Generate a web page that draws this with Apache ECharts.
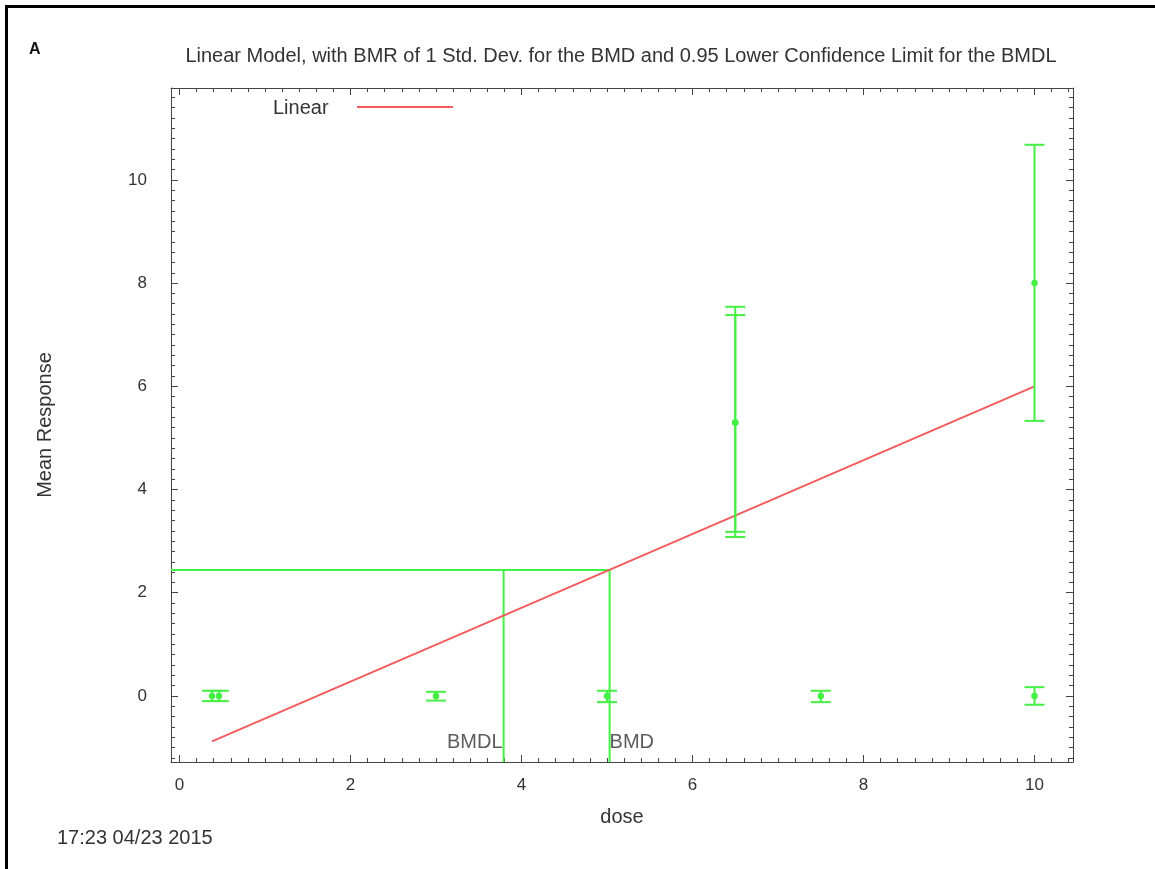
<!DOCTYPE html>
<html>
<head>
<meta charset="utf-8">
<title>Linear Model BMD</title>
<script src="https://cdn.jsdelivr.net/npm/echarts@6/dist/echarts.min.js"></script>
<style>
  html, body { margin: 0; padding: 0; background: #fff; }
  #chart { width: 1155px; height: 869px; }
</style>
</head>
<body>
<div id="chart"></div>
<script>
// Observed dose groups: dose, group mean and confidence interval bounds
const doses = [0.38, 0.46, 3, 5, 6.5, 6.5, 7.5, 10, 10];
const means = [0, 0, 0, 0, 5.3, 5.3, 0, 0, 8.0];
const lowerCI = [-0.1, -0.1, -0.09, -0.12, 3.08, 3.18, -0.12, -0.17, 5.33];
const upperCI = [0.1, 0.1, 0.08, 0.1, 7.54, 7.38, 0.1, 0.17, 10.68];

// Fitted linear model, drawn between its two end doses
const linearDose = [0.38, 10];
const linearMean = [-0.88, 6.0];

// Benchmark response level and the BMD / BMDL doses
const bmr = 2.44;
const bmd = 5.03;
const bmdl = 3.79;

// Axis ranges and tick labels
const xMin = -0.1, xMax = 10.45;
const yMin = -1.28, yMax = 11.78;
const xTicks = [0, 2, 4, 6, 8, 10];
const yTicks = [0, 2, 4, 6, 8, 10];

function minorSteps(from, to, step) {
  const out = [];
  for (let v = from; v <= to + 1e-9; v += step) out.push(Math.round(v * 100) / 100);
  return out;
}
const xMinor = minorSteps(0, 10.4, 0.2);
const yMinor = minorSteps(-1.2, 11.6, 0.2);

const FONT = 'Liberation Sans, Arial, sans-serif';
const TEXT = '#333';
const GREEN = '#44f044';
const RED = '#f25c5c';
const FRAME = '#444';
const LABEL_SIZE = 20;

function xAxisDef(position, ticks, len, withLine, withLabels) {
  return {
    type: 'value', min: xMin, max: xMax, position: position,
    axisLine: { show: withLine, onZero: false, lineStyle: { color: FRAME, width: 1 } },
    axisTick: { show: true, inside: true, length: len, customValues: ticks, lineStyle: { color: FRAME } },
    axisLabel: withLabels
      ? { show: true, customValues: ticks, margin: 15, color: TEXT, fontSize: 17, fontFamily: FONT }
      : { show: false },
    splitLine: { show: false }
  };
}
function yAxisDef(position, ticks, len, withLine, withLabels) {
  return {
    type: 'value', min: yMin, max: yMax, position: position,
    axisLine: { show: withLine, onZero: false, lineStyle: { color: FRAME, width: 1 } },
    axisTick: { show: true, inside: true, length: len, customValues: ticks, lineStyle: { color: FRAME } },
    axisLabel: withLabels
      ? { show: true, customValues: ticks, margin: 24, color: TEXT, fontSize: 17, fontFamily: FONT }
      : { show: false },
    splitLine: { show: false }
  };
}

const xAxes = [
  xAxisDef('bottom', xTicks, 7, true, true),
  xAxisDef('bottom', xMinor, 4, false, false),
  xAxisDef('top', xTicks, 7, true, false),
  xAxisDef('top', xMinor, 4, false, false)
];
xAxes[0].name = 'dose';
xAxes[0].nameLocation = 'middle';
xAxes[0].nameGap = 45;
xAxes[0].nameTextStyle = { color: TEXT, fontSize: LABEL_SIZE, fontFamily: FONT };

const yAxes = [
  yAxisDef('left', yTicks, 7, true, true),
  yAxisDef('left', yMinor, 4, false, false),
  yAxisDef('right', yTicks, 7, true, false),
  yAxisDef('right', yMinor, 4, false, false)
];
yAxes[0].name = 'Mean Response';
yAxes[0].nameLocation = 'middle';
yAxes[0].nameGap = 116;
yAxes[0].nameTextStyle = { color: TEXT, fontSize: LABEL_SIZE, fontFamily: FONT };

const errorData = doses.map((d, i) => [d, lowerCI[i], upperCI[i], means[i]]);

const chart = echarts.init(document.getElementById('chart'), null, { renderer: 'canvas' });
chart.setOption({
  backgroundColor: '#fff',
  animation: false,
  grid: { left: 171, right: 82, top: 88, bottom: 107, containLabel: false },
  xAxis: xAxes,
  yAxis: yAxes,
  graphic: [
    { type: 'rect', left: 4, top: 4, silent: true,
      shape: { x: 0, y: 0, width: 1400, height: 1200 },
      style: { fill: 'none', stroke: '#000', lineWidth: 3 } },
    { type: 'text', x: 29, y: 50, silent: true,
      style: { text: 'A', fill: '#111', font: 'bold 16px ' + FONT, verticalAlign: 'middle' } },
    { type: 'text', x: 621, y: 56, silent: true,
      style: { text: 'Linear Model, with BMR of 1 Std. Dev. for the BMD and 0.95 Lower Confidence Limit for the BMDL',
               fill: TEXT, font: LABEL_SIZE + 'px ' + FONT, align: 'center', verticalAlign: 'middle' } },
    { type: 'text', x: 273, y: 108, silent: true,
      style: { text: 'Linear', fill: TEXT, font: LABEL_SIZE + 'px ' + FONT, verticalAlign: 'middle' } },
    { type: 'line', silent: true,
      shape: { x1: 357, y1: 107, x2: 453, y2: 107 },
      style: { stroke: RED, lineWidth: 2 } },
    { type: 'text', x: 57, y: 838, silent: true,
      style: { text: '17:23 04/23 2015', fill: TEXT, font: LABEL_SIZE + 'px ' + FONT, verticalAlign: 'middle' } }
  ],
  series: [
    {
      name: 'Linear', type: 'line', symbol: 'none', silent: true,
      data: linearDose.map((d, i) => [d, linearMean[i]]),
      lineStyle: { color: RED, width: 2 }, z: 3
    },
    {
      name: 'BMD', type: 'line', symbol: 'none', silent: true,
      data: [[xMin, bmr], [bmd, bmr], [bmd, yMin]],
      lineStyle: { color: GREEN, width: 2 }, z: 2
    },
    {
      name: 'BMDL', type: 'line', symbol: 'none', silent: true,
      data: [[bmdl, bmr], [bmdl, yMin]],
      lineStyle: { color: GREEN, width: 2 }, z: 2
    },
    {
      name: 'BMD labels', type: 'scatter', symbolSize: 0, silent: true,
      data: [
        { value: [bmdl, -0.9], label: { formatter: 'BMDL', position: 'left', distance: 1 } },
        { value: [bmd, -0.9], label: { formatter: 'BMD', position: 'right', distance: 0 } }
      ],
      label: { show: true, color: TEXT, fontSize: LABEL_SIZE, fontFamily: FONT }
    },
    {
      name: 'Data', type: 'custom', silent: true, z: 4,
      data: errorData,
      renderItem: function (params, api) {
        const x = api.value(0);
        const lo = api.coord([x, api.value(1)]);
        const hi = api.coord([x, api.value(2)]);
        const m = api.coord([x, api.value(3)]);
        const hw = 10;
        const st = { stroke: GREEN, lineWidth: 2, fill: 'none' };
        return {
          type: 'group',
          children: [
            { type: 'line', shape: { x1: lo[0], y1: lo[1], x2: hi[0], y2: hi[1] }, style: st },
            { type: 'line', shape: { x1: hi[0] - hw, y1: hi[1], x2: hi[0] + hw, y2: hi[1] }, style: st },
            { type: 'line', shape: { x1: lo[0] - hw, y1: lo[1], x2: lo[0] + hw, y2: lo[1] }, style: st },
            { type: 'circle', shape: { cx: m[0], cy: m[1], r: 2.5 }, style: { stroke: GREEN, lineWidth: 1.5, fill: GREEN } }
          ]
        };
      }
    }
  ]
});
</script>
</body>
</html>
